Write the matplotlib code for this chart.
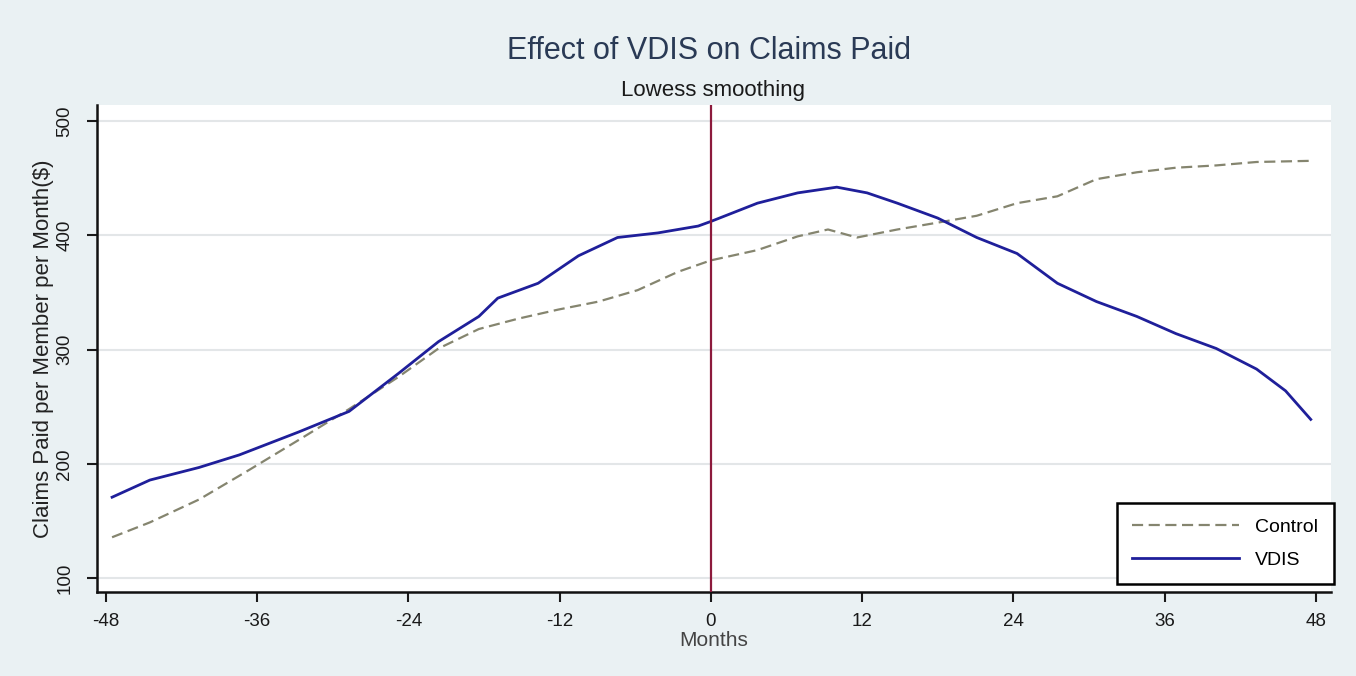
import matplotlib.pyplot as plt
import numpy as np

plt.rcParams['font.family'] = ['Liberation Sans', 'DejaVu Sans']

# lowess-smoothed claims paid, read at selected months
months_vdis = [-47.5, -44.5, -40.6, -37.4, -32.7, -28.7, -24.8, -21.6, -18.4, -16.9,
               -13.7, -10.5, -7.4, -4.2, -1.0, 0.0, 3.7, 6.9, 10.0, 12.4, 14.8,
               18.0, 21.1, 24.3, 27.5, 30.6, 33.8, 36.9, 40.1, 43.3, 45.6, 47.6]
vdis = [171, 186, 197, 208, 228, 246, 279, 307, 329, 345,
        358, 382, 398, 402, 408, 412, 428, 437, 442, 437, 428,
        415, 398, 384, 358, 342, 329, 314, 301, 283, 264, 239]

months_ctrl = [-47.5, -44.5, -40.6, -36.6, -32.7, -28.7, -24.8, -21.6, -18.4, -15.3,
               -12.1, -8.9, -5.8, -2.6, 0.0, 3.7, 6.9, 9.3, 11.6, 14.8, 18.0,
               21.1, 24.3, 27.5, 30.6, 33.8, 36.9, 40.1, 43.3, 47.6]
control = [136, 149, 169, 195, 221, 248, 276, 301, 318, 327,
           335, 342, 352, 368, 378, 387, 399, 405, 398, 405, 411,
           417, 428, 434, 449, 455, 459, 461, 464, 465]

x_ticks = [-48, -36, -24, -12, 0, 12, 24, 36, 48]
y_ticks = [100, 200, 300, 400, 500]

bg = '#eaf1f3'
fig = plt.figure(figsize=(13.56, 6.76), dpi=100, facecolor=bg)
ax = fig.add_axes([0.0715, 0.124, 0.91, 0.721])
ax.set_facecolor('white')

ax.plot(months_ctrl, control, color='#85856f', lw=1.6, ls=(0, (5, 2.5)), label='Control', zorder=3)
ax.plot(months_vdis, vdis, color='#1f1f9a', lw=2.0, label='VDIS', zorder=4)
ax.axvline(0, color='#8c1a3c', lw=1.6, zorder=5)

ax.set_xlim(-48.7, 49.2)
ax.set_ylim(88, 514)
ax.set_xticks(x_ticks)
ax.set_xticklabels([str(v) for v in x_ticks])
ax.set_yticks(y_ticks)
ax.set_yticklabels([str(v) for v in y_ticks], rotation=90, va='center')
ax.tick_params(axis='both', direction='out', length=7, width=1.5, labelsize=13.5, colors='#1a1a1a')
ax.tick_params(axis='x', pad=8)
ax.tick_params(axis='y', pad=10)
ax.grid(axis='y', color='#e3e6e8', lw=1.5)
ax.set_axisbelow(True)

for side in ['top', 'right']:
    ax.spines[side].set_visible(False)
for side in ['left', 'bottom']:
    ax.spines[side].set_linewidth(1.8)
    ax.spines[side].set_color('#111111')

ax.set_xlabel('Months', fontsize=15, color='#444444', labelpad=1)
ax.set_ylabel('Claims Paid per Member per Month($)', fontsize=16, color='#222222', labelpad=2)

fig.text(0.523, 0.925, 'Effect of VDIS on Claims Paid', ha='center', va='center',
         fontsize=22, color='#2a3a55')
fig.text(0.526, 0.866, 'Lowess smoothing', ha='center', va='center',
         fontsize=16, color='#1a1a1a')

leg = ax.legend(loc='lower right', bbox_to_anchor=(1.01, -0.004), fontsize=14,
                frameon=True, fancybox=False, borderpad=0.8, handlelength=5.5,
                labelspacing=0.8, framealpha=1)
leg.get_frame().set_edgecolor('black')
leg.get_frame().set_linewidth(1.8)

fig.savefig('out.png', dpi=100, facecolor=bg)
